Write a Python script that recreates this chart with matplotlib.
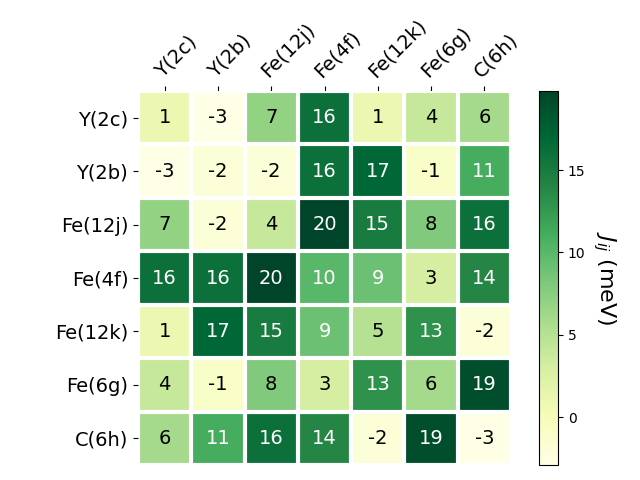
import numpy as np
import matplotlib
matplotlib.use("Agg")
import matplotlib.pyplot as plt

sites = ["Y(2c)", "Y(2b)", "Fe(12j)", "Fe(4f)", "Fe(12k)", "Fe(6g)", "C(6h)"]

# exchange couplings J_ij in meV (symmetric)
J = np.array([
    [1.0, -2.9, 7.0, 16.0, 1.0, 4.0, 6.0],
    [-2.9, -2.0, -2.0, 16.0, 17.0, -1.0, 11.0],
    [7.0, -2.0, 4.0, 19.8, 15.0, 8.0, 16.0],
    [16.0, 16.0, 19.8, 10.0, 9.0, 3.0, 14.0],
    [1.0, 17.0, 15.0, 9.0, 5.0, 13.0, -2.0],
    [4.0, -1.0, 8.0, 3.0, 13.0, 6.0, 19.0],
    [6.0, 11.0, 16.0, 14.0, -2.0, 19.0, -2.9],
])

fig = plt.figure(figsize=(6.4, 4.8), dpi=100)
ax = fig.add_axes([138/640, 15/480, 373/640, 374/480])
cax = fig.add_axes([539/640, 15/480, 19/640, 374/480])

im = ax.imshow(J, cmap="YlGn", aspect="auto")
cbar = fig.colorbar(im, cax=cax)
cbar.ax.set_ylabel("$J_{ij}$ (meV)", rotation=-90, va="bottom", fontsize=16)

ax.set_xticks(np.arange(len(sites)))
ax.set_yticks(np.arange(len(sites)))
ax.set_xticklabels(sites, fontsize=14)
ax.set_yticklabels(sites, fontsize=14)
ax.tick_params(top=True, bottom=False, labeltop=True, labelbottom=False)
plt.setp(ax.get_xticklabels(), rotation=45, ha="left", rotation_mode="anchor")

for s in ax.spines.values():
    s.set_visible(False)
ax.set_xticks(np.arange(len(sites) + 1) - .5, minor=True)
ax.set_yticks(np.arange(len(sites) + 1) - .5, minor=True)
ax.grid(which="minor", color="w", linestyle="-", linewidth=3)
ax.tick_params(which="minor", bottom=False, left=False, top=False)

thresh = im.norm(J.max()) / 2.
for i in range(J.shape[0]):
    for j in range(J.shape[1]):
        c = "white" if im.norm(J[i, j]) > thresh else "black"
        ax.text(j, i, "{:.0f}".format(J[i, j]), ha="center", va="center",
                color=c, fontsize=14)

fig.savefig("out.png")
